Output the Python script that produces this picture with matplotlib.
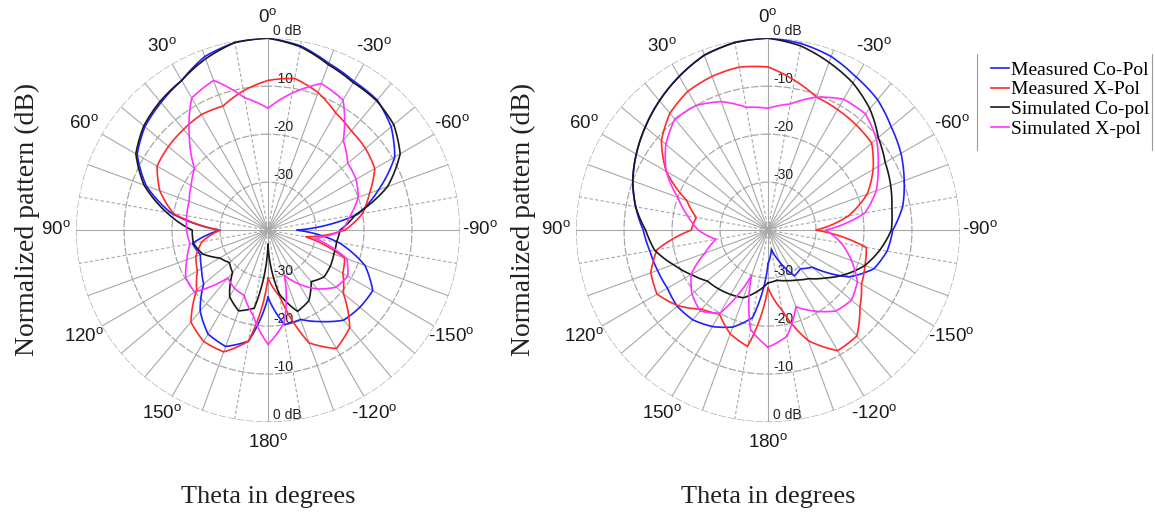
import numpy as np
import matplotlib
matplotlib.use("Agg")
import matplotlib.pyplot as plt
from matplotlib.lines import Line2D

plt.rcParams['font.family'] = ['Liberation Sans', 'DejaVu Sans']
plt.rcParams['mathtext.fontset'] = 'custom'
plt.rcParams['mathtext.rm'] = 'Liberation Sans'

# angles in degrees, measured counter-clockwise from broadside (top)
angles = list(range(-180, 190, 10))

# left pattern (dB)
meas_co_a = [-26, -20, -20.2, -18, -15.5, -15, -14.8, -18.5, -25, -34, -21, -15.5, -9.5,
             -6.5, -4.6, -4.2, -3, -1, 0, -0.3, -1.5, -4, -5.3, -6.5, -8.5, -13, -19.5,
             -30, -24, -25, -24, -22.5, -18, -15, -14.2, -16.5, -26]
meas_x_a = [-30, -26, -15, -11.5, -13.5, -19.5, -22, -23, -32, -24, -20, -17.5, -14.3,
            -13.5, -13, -11.8, -9.5, -7.9, -8.8, -10.5, -12.5, -12.2, -12.6, -12.9, -13.3,
            -16, -20, -30, -26, -24, -23, -20.6, -15, -13.2, -13, -16.5, -30]
sim_co_a = [-37, -26.5, -22, -23, -26, -24.8, -25, -25.4, -25.5, -25, -21.5, -13.5, -8.2,
            -5.8, -4.8, -4.5, -3.3, -1.2, 0, -0.3, -2, -4, -5, -6.2, -8.2, -12.5, -18.5,
            -24.2, -24.2, -25.5, -28.4, -29.5, -28.5, -24, -22.1, -23.5, -37]
sim_x_a = [-16.2, -20.5, -30, -27, -24, -21.5, -20.8, -22.5, -30, -24.5, -22.6, -20, -18.8,
           -18.3, -15.6, -8.7, -7.5, -11, -14.6, -12, -6.8, -8.2, -14.5, -20, -21.5, -22.5,
           -22.8, -23, -23.5, -22, -20.2, -20, -27, -26, -25.5, -22, -16.2]

# right pattern (dB)
meas_co_b = [-33, -36, -33, -29, -29.5, -28, -20.5, -16.5, -14.8, -14, -11.5, -9.8, -8,
             -6.5, -4.5, -3.2, -1.5, -0.5, 0, -0.3, -1.2, -3, -4.8, -6.6, -8.3, -10, -12,
             -14, -15, -15.5, -15.8, -15.3, -15.6, -16.8, -18.5, -21.5, -33]
meas_x_b = [-28, -23, -15.5, -11, -11.2, -15, -17.5, -18.5, -19.2, -30, -23, -18, -14.7,
            -11.8, -11.4, -11, -10.5, -8.3, -6, -5.5, -5.9, -6.6, -8.2, -11, -15.5, -22,
            -24.8, -24, -16.5, -14, -13.3, -15.5, -18.5, -19.8, -17, -15.4, -28]
sim_co_b = [-29, -29.4, -28.8, -28, -26.8, -24.5, -21.5, -18.5, -16.3, -14.3, -13.8, -12.8,
            -11.8, -10, -7, -4.6, -2.8, -1, 0, -0.3, -1.2, -3, -4.8, -6.6, -8.3, -10, -12,
            -14.5, -16, -19, -21.5, -23.5, -24, -24.5, -25, -27, -29]
sim_x_b = [-15.6, -17.5, -23, -20.5, -18, -17.3, -18.5, -21.5, -24.5, -28, -19.5, -16,
           -13.5, -10.5, -8.4, -8.5, -10.5, -13.3, -14.6, -14, -11.5, -10, -9.8, -12.2,
           -15.5, -20, -23, -25.5, -29, -26, -21.5, -19.3, -18, -20, -30, -19, -15.6]

series_labels = ['Measured Co-Pol', 'Measured X-Pol', 'Simulated Co-pol', 'Simulated X-pol']
series_colors = ['#1f1fff', '#ff2a2a', '#1a1a1a', '#ff33ff']

# angle tick labels as printed on the chart
tick_angles = [0, 30, 60, 90, 120, 150, 180, -150, -120, -90, -60, -30]
tick_texts = ['0', '30', '60', '90', '120', '150', '180', '-120', '-150', '-90', '-60', '-30']
ring_levels = [-30, -20, -10, 0]
ring_texts = ['-30', '-20', '-10', '0 dB']

grid_color = '#a8a8a8'


def draw_panel(ax, data):
    ax.set_theta_zero_location('N')
    ax.set_theta_direction(1)
    ax.set_ylim(-40, 0)
    ax.grid(False)
    ax.set_xticks([])
    ax.set_yticks([])
    ax.spines['polar'].set_visible(False)
    ax.patch.set_alpha(0)

    th = np.linspace(0, 2 * np.pi, 721)
    for lvl in ring_levels:
        ax.plot(th, np.full_like(th, lvl), color=grid_color, lw=0.9,
                ls=(0, (6, 1.5)), zorder=1)
    for a in range(0, 360, 10):
        dashed = a in (10, 80, 100, 170, 190, 260, 280, 350)
        ax.plot([np.deg2rad(a)] * 2, [-40, 0], color=grid_color, lw=0.8,
                ls=(0, (3, 2)) if dashed else '-', zorder=1)

    for lvl, txt in zip(ring_levels, ring_texts):
        for t in (0, np.pi):
            ax.annotate(txt, xy=(t, lvl), xytext=(5, 7), textcoords='offset pixels',
                        ha='left', va='center', fontsize=10, color='#222222', zorder=1.5)

    for a, txt in zip(tick_angles, tick_texts):
        ax.text(np.deg2rad(a), 4.2, txt + r'$^\mathrm{o}$', ha='center', va='center',
                fontsize=13.5, color='#1a1a1a', clip_on=False)

    rad = np.deg2rad(angles)
    lines = []
    for vals, col, lab in zip(data, series_colors, series_labels):
        ln, = ax.plot(rad, vals, color=col, lw=1.2, label=lab, zorder=3,
                      solid_joinstyle='round')
        # draw each segment along the polar grid instead of as a straight chord
        ln.get_path()._interpolation_steps = 12
        lines.append(ln)
    return lines


fig = plt.figure(figsize=(11.55, 5.16), dpi=100)
ax1 = fig.add_axes([0.0658, 0.182, 0.3325, 0.744], projection='polar')
ax2 = fig.add_axes([0.4987, 0.182, 0.3325, 0.744], projection='polar')

handles = draw_panel(ax1, [meas_co_a, meas_x_a, sim_co_a, sim_x_a])
draw_panel(ax2, [meas_co_b, meas_x_b, sim_co_b, sim_x_b])

serif = {'family': 'Liberation Serif', 'size': 20}
fig.text(0.024, 0.575, 'Normalized pattern (dB)', rotation=90, ha='center', va='center',
         fontdict=serif, color='#222222')
fig.text(0.453, 0.575, 'Normalized pattern (dB)', rotation=90, ha='center', va='center',
         fontdict=serif, color='#222222')
fig.text(0.232, 0.037, 'Theta in degrees', ha='center', va='center',
         fontdict={'family': 'Liberation Serif', 'size': 19}, color='#222222')
fig.text(0.665, 0.037, 'Theta in degrees', ha='center', va='center',
         fontdict={'family': 'Liberation Serif', 'size': 19}, color='#222222')

fig.legend(handles=handles, loc='upper left', bbox_to_anchor=(0.850, 0.90),
           frameon=False, prop={'family': 'Liberation Serif', 'size': 14},
           handlelength=0.9, handletextpad=0.1, labelspacing=0.1, borderpad=0)
fig.add_artist(Line2D([0.846, 0.846], [0.71, 0.895], color='#9a9a9a', lw=0.8))
fig.add_artist(Line2D([0.997, 0.997], [0.71, 0.895], color='#9a9a9a', lw=0.8))

fig.savefig('out.png', dpi=100)
